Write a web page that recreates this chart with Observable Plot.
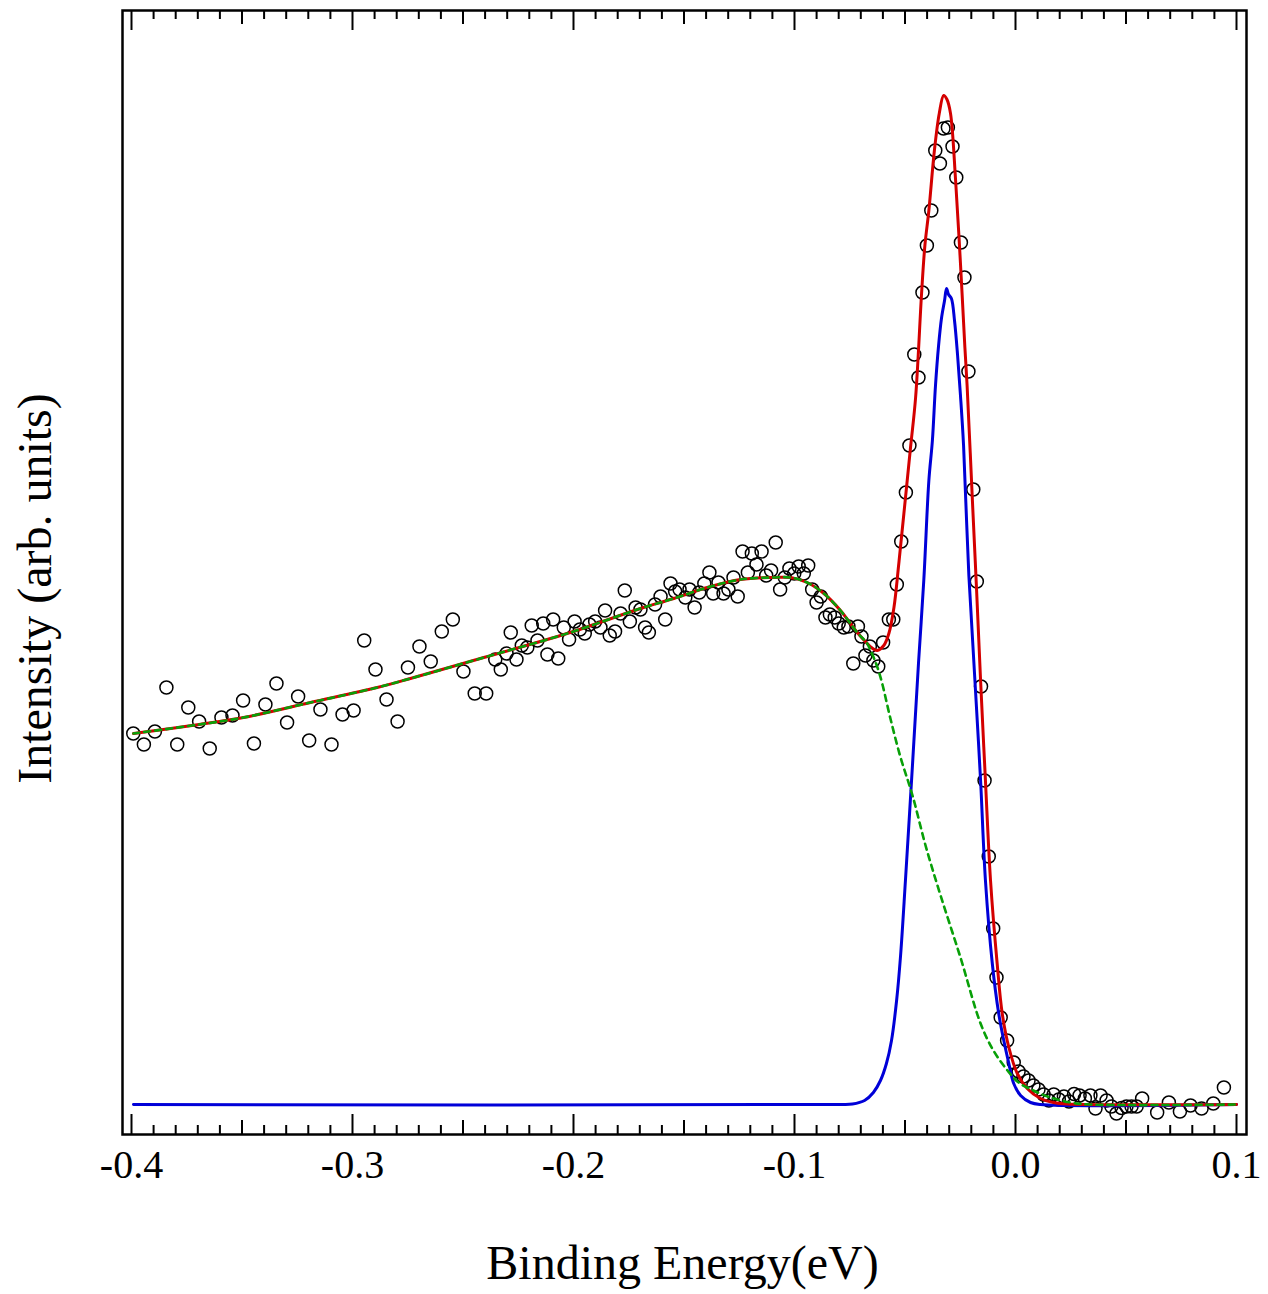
<!DOCTYPE html>
<html><head><meta charset="utf-8">
<script src="https://cdn.jsdelivr.net/npm/d3@7"></script>
<script src="https://cdn.jsdelivr.net/npm/@observablehq/plot@0.6"></script>
<style>body{margin:0;background:#fff}</style>
</head><body><div id="chart"></div>
<script>
// Experimental points (binding energy in eV, intensity in arb. units)
const expX = [-0.3992,-0.3944,-0.3894,-0.3842,-0.3793,-0.3743,-0.3694,-0.3646,-0.3593,-0.3543,-0.3495,-0.3446,-0.3394,-0.3344,-0.3296,-0.3246,-0.3196,-0.3145,-0.3095,-0.3045,-0.2995,-0.2947,-0.2896,-0.2846,-0.2796,-0.2749,-0.2697,-0.2646,-0.2596,-0.2546,-0.2498,-0.2447,-0.2395,-0.2354,-0.2329,-0.2303,-0.2284,-0.2258,-0.2234,-0.2209,-0.2189,-0.2163,-0.2137,-0.2118,-0.2092,-0.2069,-0.2044,-0.2020,-0.1995,-0.1971,-0.1949,-0.1928,-0.1902,-0.1878,-0.1857,-0.1836,-0.1812,-0.1787,-0.1768,-0.1745,-0.1719,-0.1697,-0.1676,-0.1659,-0.1631,-0.1606,-0.1585,-0.1561,-0.1540,-0.1520,-0.1494,-0.1475,-0.1452,-0.1431,-0.1408,-0.1385,-0.1368,-0.1344,-0.1321,-0.1299,-0.1276,-0.1257,-0.1235,-0.1211,-0.1193,-0.1172,-0.1149,-0.1128,-0.1106,-0.1085,-0.1065,-0.1044,-0.1023,-0.1001,-0.0981,-0.0958,-0.0938,-0.0920,-0.0900,-0.0881,-0.0860,-0.0840,-0.0818,-0.0800,-0.0777,-0.0756,-0.0734,-0.0713,-0.0697,-0.0679,-0.0659,-0.0643,-0.0621,-0.0599,-0.0573,-0.0553,-0.0537,-0.0517,-0.0496,-0.0480,-0.0458,-0.0439,-0.0421,-0.0401,-0.0381,-0.0363,-0.0342,-0.0326,-0.0306,-0.0285,-0.0268,-0.0247,-0.0231,-0.0213,-0.0191,-0.0175,-0.0156,-0.0140,-0.0121,-0.0101,-0.0086,-0.0067,-0.0038,-0.0008,0.0014,0.0036,0.0059,0.0081,0.0104,0.0127,0.0151,0.0173,0.0196,0.0219,0.0242,0.0265,0.0290,0.0314,0.0339,0.0362,0.0385,0.0412,0.0434,0.0457,0.0480,0.0502,0.0525,0.0548,0.0573,0.0641,0.0694,0.0744,0.0792,0.0842,0.0895,0.0943];
const expY = [37.1,36.0,37.3,41.7,36.0,39.7,38.3,35.6,38.7,38.9,40.4,36.1,40.0,42.1,38.2,40.8,36.4,39.5,36.0,39.0,39.4,46.4,43.5,40.5,38.3,43.7,45.8,44.3,47.3,48.5,43.3,41.1,41.1,44.5,43.5,45.1,47.2,44.5,45.9,45.7,47.9,46.4,48.1,45.0,48.5,44.6,47.7,46.5,48.3,47.5,47.1,48.0,48.3,47.7,49.4,46.9,47.3,49.1,51.4,48.3,49.7,49.5,47.7,47.2,50.0,50.8,48.5,52.1,51.3,51.5,50.7,51.5,49.7,51.2,52.1,53.2,51.1,52.2,51.1,51.5,52.7,50.8,55.3,53.2,55.1,54.0,55.3,52.9,53.4,56.2,51.5,52.7,53.6,53.1,53.8,53.1,53.9,51.5,50.2,50.8,48.7,49.0,48.7,48.1,47.7,47.8,44.1,47.8,46.8,44.9,45.8,44.4,43.8,46.2,48.5,48.5,52.0,56.3,61.2,65.9,75.0,72.7,81.2,85.9,89.4,95.4,94.1,97.6,97.7,95.8,92.7,86.2,82.7,73.3,61.5,52.3,41.8,32.4,24.8,17.6,12.7,8.7,6.4,4.2,3.3,2.8,2.4,1.9,1.5,1.0,0.4,1.0,0.5,0.8,0.3,1.05,0.9,0.6,0.9,-0.4,0.9,0.4,-0.2,-0.9,-0.35,-0.2,-0.2,-0.2,0.6,-0.8,0.2,-0.7,-0.1,-0.4,0.1,1.7];

// Total fit (red)
const fitX = [-0.3991,-0.3694,-0.3493,-0.3190,-0.2888,-0.2738,-0.2406,-0.2029,-0.1697,-0.1546,-0.1395,-0.1244,-0.1094,-0.1018,-0.0943,-0.0867,-0.0792,-0.0716,-0.0671,-0.0652,-0.0626,-0.0596,-0.0573,-0.0550,-0.0528,-0.0505,-0.0475,-0.0452,-0.0425,-0.0410,-0.0392,-0.0367,-0.0345,-0.0325,-0.0310,-0.0294,-0.0271,-0.0249,-0.0229,-0.0219,-0.0195,-0.0176,-0.0158,-0.0136,-0.0113,-0.0083,-0.0060,-0.0030,0.0008,0.0053,0.0113,0.0172,0.0235,0.1000];
const fitY = [37.1,38.0,38.7,40.2,41.7,42.6,44.7,47.1,49.6,50.6,51.7,52.5,52.7,52.7,52.2,51.1,49.4,47.2,46.1,45.7,45.4,45.9,47.1,49.7,54.1,59.1,65.7,70.7,81.1,85.9,89.4,95.4,99.1,100.9,100.5,99.1,92.4,84.1,75.7,71.9,60.4,51.4,42.4,32.4,22.4,14.1,9.1,5.7,3.1,1.6,0.6,0.2,0.05,0];

// Peak component (blue)
const peakX = [-0.3991,-0.0792,-0.0738,-0.0683,-0.0643,-0.0611,-0.0584,-0.0561,-0.0538,-0.0520,-0.0498,-0.0466,-0.0439,-0.0415,-0.0392,-0.0376,-0.0362,-0.0348,-0.0335,-0.0321,-0.0312,-0.0303,-0.0290,-0.0276,-0.0262,-0.0249,-0.0235,-0.0211,-0.0181,-0.0158,-0.0136,-0.0105,-0.0076,-0.0053,-0.0030,-0.0008,0.0023,0.0068,0.0113,0.1000];
const peakY = [0,0,0.05,0.4,1.2,2.4,4.1,6.4,10.4,14.9,22.4,34.0,44.1,52.4,62.4,66.4,71.9,75.9,78.6,80.4,81.6,81.0,80.6,78.4,74.9,70.9,65.9,52.9,41.4,32.4,22.4,14.1,9.1,6.4,4.1,2.1,0.9,0.2,0,0];

// Background component (green dashed): same as fit below -0.067, then this tail
const bgTailX = [-0.0656,-0.0638,-0.0620,-0.0602,-0.0566,-0.0520,-0.0466,-0.0407,-0.0339,-0.0249,-0.0158,-0.0100,-0.0036,0.0014,0.0081,0.0158,0.0249,0.0339,0.1000];
const bgTailY = [45.4,44.5,43.4,42.0,38.6,34.7,30.9,25.9,20.9,14.7,8.1,5.4,3.4,2.2,1.4,0.7,0.2,0,0];

const majorTicks = [-0.4,-0.3,-0.2,-0.1,0.0,0.1];
const tickLabels = ["-0.4","-0.3","-0.2","-0.1","0.0","0.1"];
const mediumTicks = [-0.35,-0.25,-0.15,-0.05,0.05];
const minorTicks = d3.range(-40,11).map(i => i/100).filter(v => Math.round(v*100) % 5 !== 0);

const points = expX.map((x,i) => ({x, y: expY[i]}));
const fit = fitX.map((x,i) => ({x, y: fitY[i]}));
const peak = peakX.map((x,i) => ({x, y: peakY[i]}));
const bg = fit.filter(d => d.x <= -0.0671).concat(bgTailX.map((x,i) => ({x, y: bgTailY[i]})));
const labels = majorTicks.map((x,i) => ({x, t: tickLabels[i]}));

const FH = 1294 - 10 - 160; // frame height
const serif = "'Liberation Serif','Times New Roman',serif";
const tickRule = (data, len, side) => Plot.ruleX(data, {x: d => d, stroke: "black", strokeWidth: 2,
  ...(side === "bottom" ? {insetTop: FH - len} : {insetBottom: FH - len})});

const chart = Plot.plot({
  width: 1268, height: 1294,
  marginLeft: 122, marginRight: 22, marginTop: 10, marginBottom: 160,
  x: {domain: [-0.40407, 0.104525], axis: null},
  y: {domain: [-3.0, 109.4], axis: null},
  style: {fontFamily: serif, background: "white", color: "black"},
  marks: [
    tickRule(majorTicks, 20, "bottom"), tickRule(majorTicks, 20, "top"),
    tickRule(mediumTicks, 14, "bottom"), tickRule(mediumTicks, 14, "top"),
    tickRule(minorTicks, 9, "bottom"), tickRule(minorTicks, 9, "top"),
    Plot.dot(points, {x: "x", y: "y", r: 6.5, stroke: "black", strokeWidth: 1.5, fill: "none"}),
    Plot.line(peak, {x: "x", y: "y", stroke: "#0000d8", strokeWidth: 3, curve: "catmull-rom"}),
    Plot.line(fit, {x: "x", y: "y", stroke: "#d40000", strokeWidth: 3, curve: "catmull-rom"}),
    Plot.line(bg, {x: "x", y: "y", stroke: "#08a008", strokeWidth: 2.6, strokeDasharray: "6,5", curve: "catmull-rom"}),
    Plot.frame({stroke: "black", strokeWidth: 2.5}),
    Plot.text(labels, {x: "x", text: "t", frameAnchor: "bottom", dy: 31, fontSize: 40, fontFamily: serif, fill: "black", lineAnchor: "middle"}),
    Plot.text(["Binding Energy(eV)"], {frameAnchor: "bottom", dx: -2, dy: 129, fontSize: 48, fontFamily: serif, fill: "black", lineAnchor: "middle"}),
    Plot.text(["Intensity (arb. units)"], {frameAnchor: "left", textAnchor: "middle", dx: -87, dy: 16, rotate: -90, fontSize: 48, fontFamily: serif, fill: "black", lineAnchor: "middle"})
  ]
});
document.getElementById("chart").append(chart);
</script>
</body></html>
